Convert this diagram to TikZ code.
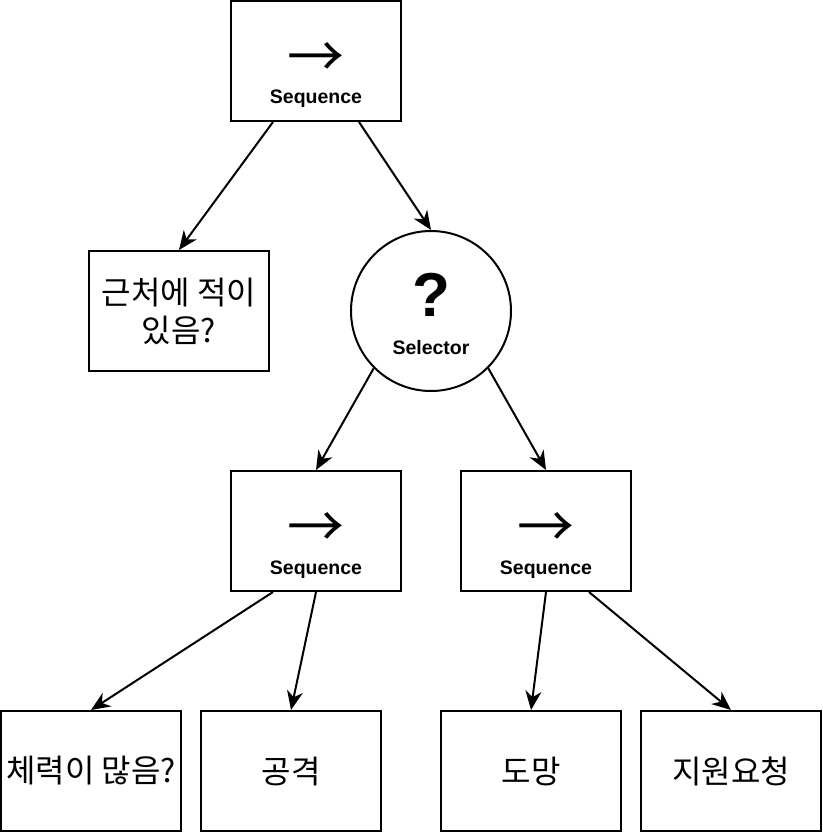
\documentclass[tikz,border=0pt]{standalone}
\usepackage{fontspec}
\setmainfont{Liberation Sans}
\newfontfamily\krfont{Noto Sans CJK KR}
\usetikzlibrary{arrows.meta, positioning, calc}

\tikzset{
    treebox/.style={draw, line width=2pt, minimum width=170pt, minimum height=120pt, inner sep=0pt},
    selnode/.style={draw, circle, line width=2pt, minimum size=160pt, inner sep=0pt},
    seqsym/.style={font=\krfont\fontsize{57}{57}\selectfont, inner sep=0pt},
    tag/.style={font=\bfseries\fontsize{19.5}{19.5}\selectfont, inner sep=0pt},
    leaf/.style={treebox, minimum width=180pt, font=\krfont\fontsize{32}{38}\selectfont, align=center},
    edge/.style={-{Stealth[length=19pt, width=16pt, inset=6pt]}, line width=2pt},
}

\begin{document}
\begin{tikzpicture}[x=1pt, y=-1pt]
    \useasboundingbox (0,0) rectangle (822,832);

    % Sequence nodes
    \foreach \name/\x/\y in {seqtop/316/61, seqleft/316/531, seqright/546/531} {
        \node[treebox] (\name) at (\x,\y) {};
        \node[seqsym] (\name-sym) at (\x,\y-1) {→};
        \node[tag, anchor=base] (\name-tag) at (\x,\y+43) {Sequence};
    }

    % Selector
    \node[selnode] (sel) at (431,311) {};
    \node[font=\bfseries\fontsize{62}{62}\selectfont, anchor=base, inner sep=0pt] (sel-sym) at (431,316) {?};
    \node[tag, anchor=base] (sel-tag) at (431,354) {Selector};

    % Leaves
    \node[leaf] (enemy) at (179,311) {근처에 적이\\있음?};
    \node[leaf] (hp) at (91,771) {체력이 많음?};
    \node[leaf] (attack) at (291,771) {공격};
    \node[leaf] (flee) at (531,771) {도망};
    \node[leaf] (help) at (731,771) {지원요청};

    % Edges
    \draw[edge] ($(seqtop.south west)!0.25!(seqtop.south east)$) -- (enemy.north);
    \draw[edge] ($(seqtop.south west)!0.75!(seqtop.south east)$) -- (sel.north);
    \draw[edge] (sel.-135) -- (seqleft.north);
    \draw[edge] (sel.-45) -- (seqright.north);
    \draw[edge] ($(seqleft.south west)!0.25!(seqleft.south east)$) -- (hp.north);
    \draw[edge] (seqleft.south) -- (attack.north);
    \draw[edge] (seqright.south) -- (flee.north);
    \draw[edge] ($(seqright.south west)!0.75!(seqright.south east)$) -- (help.north);
\end{tikzpicture}
\end{document}
